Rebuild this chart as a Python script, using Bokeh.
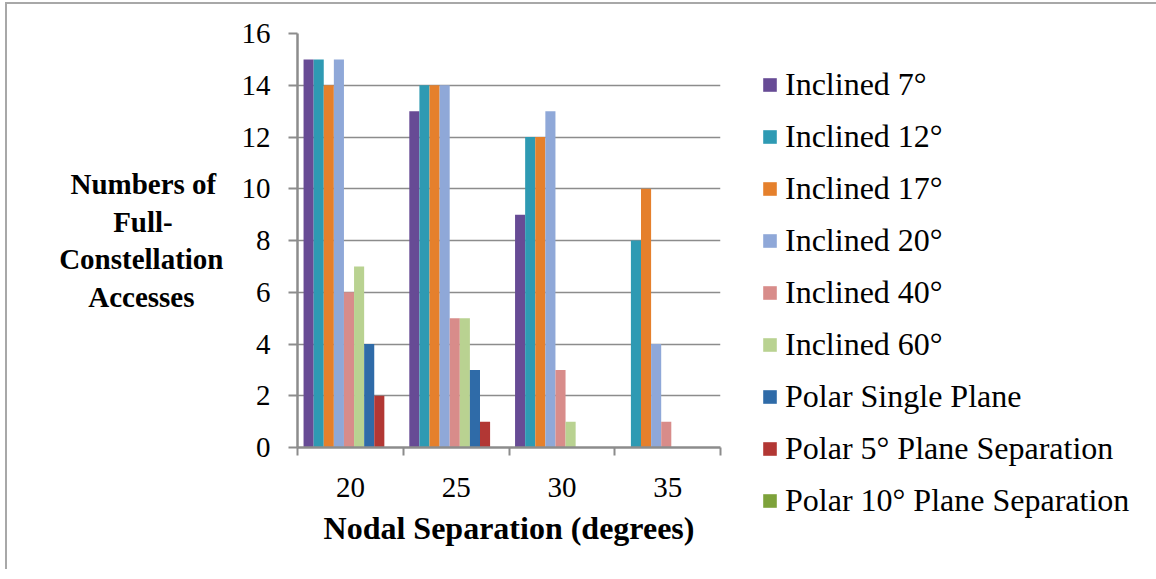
import numpy as np
from bokeh.plotting import figure
from bokeh.models import (Range1d, FixedTicker, Legend, LegendItem,
                          ColumnDataSource)
from bokeh.transform import dodge
from bokeh.embed import file_html
from bokeh.resources import INLINE

# ---- data ----
categories = ["20", "25", "30", "35"]
series_names = ["Inclined 7°", "Inclined 12°", "Inclined 17°", "Inclined 20°",
                "Inclined 40°", "Inclined 60°", "Polar Single Plane",
                "Polar 5° Plane Separation", "Polar 10° Plane Separation"]
inclined_7 = [15, 13, 9, 0]
inclined_12 = [15, 14, 12, 8]
inclined_17 = [14, 14, 12, 10]
inclined_20 = [15, 14, 13, 4]
inclined_40 = [6, 5, 3, 1]
inclined_60 = [7, 5, 1, 0]
polar_single = [4, 3, 0, 0]
polar_5 = [2, 1, 0, 0]
polar_10 = [0, 0, 0, 0]
y_ticks = [0, 2, 4, 6, 8, 10, 12, 14, 16]
x_title = "Nodal Separation (degrees)"
y_title_lines = ["Numbers of", "Full-", "Constellation", "Accesses"]

series_values = [inclined_7, inclined_12, inclined_17, inclined_20, inclined_40,
                 inclined_60, polar_single, polar_5, polar_10]
colors = ["#674B95", "#2E9AB3", "#E5802C", "#8FA8D8", "#D88C8A", "#B9D291",
          "#2F6BA8", "#B23734", "#7DA23A"]

FONT = "Liberation Serif"
GRAY = "#8C8C8C"
NBSP = "\u00a0"

x_center = np.arange(len(categories)) + 0.5
data = {"x": x_center}
for i, vals in enumerate(series_values):
    data[f"s{i}"] = vals
src = ColumnDataSource(data)

p = figure(frame_width=423, frame_height=414, output_backend="svg",
           toolbar_location=None,
           x_range=Range1d(0, len(categories)), y_range=Range1d(0, 16),
           min_border_left=290, min_border_right=427, min_border_top=29,
           min_border_bottom=122, outline_line_color=None,
           background_fill_color="white", border_fill_color="white",
           styles={"margin-left": "5px", "margin-top": "2px",
                   "border-left": "2px solid #A8A8A8",
                   "border-top": "2px solid #A8A8A8"})

bw = 0.0955
n = len(series_values)
items = []
for i in range(n):
    off = (i - (n - 1) / 2) * bw - 0.013
    r = p.vbar(x=dodge("x", off, range=p.x_range), top=f"s{i}", width=bw,
               source=src, fill_color=colors[i], line_color=None)
    items.append(LegendItem(label=series_names[i], renderers=[r]))

# axes
xa = p.xaxis[0]
xa.ticker = FixedTicker(ticks=list(x_center),
                        minor_ticks=list(range(len(categories) + 1)))
xa.major_label_overrides = {float(c): lab for c, lab in zip(x_center, categories)}
xa.major_tick_out = 0
xa.major_tick_in = 0
xa.minor_tick_out = 8
xa.minor_tick_in = 0
xa.minor_tick_line_color = GRAY
xa.minor_tick_line_width = 2
xa.axis_line_color = GRAY
xa.axis_line_width = 2.5
xa.major_label_text_font = FONT
xa.major_label_text_font_size = "29px"
xa.major_label_text_color = "black"
xa.major_label_standoff = 22
xa.axis_label = x_title
xa.axis_label_text_font = FONT
xa.axis_label_text_font_size = "32px"
xa.axis_label_text_font_style = "bold"
xa.axis_label_text_color = "black"
xa.axis_label_standoff = 10

# horizontal, centred multi-line y title (right-aligned box, padded lines)
pad = {"Numbers of": 1, "Full-": 7, "Constellation": 0, "Accesses": 4}
y_title = "\n".join(line + NBSP * pad[line] for line in y_title_lines)

ya = p.yaxis[0]
ya.ticker = FixedTicker(ticks=y_ticks)
ya.major_tick_out = 9
ya.major_tick_in = 0
ya.major_tick_line_color = GRAY
ya.major_tick_line_width = 2
ya.minor_tick_line_color = None
ya.axis_line_color = GRAY
ya.axis_line_width = 2.5
ya.major_label_text_font = FONT
ya.major_label_text_font_size = "29px"
ya.major_label_text_color = "black"
ya.major_label_standoff = 18
ya.axis_label = y_title
ya.axis_label_text_font = FONT
ya.axis_label_text_font_size = "29px"
ya.axis_label_text_font_style = "bold"
ya.axis_label_text_color = "black"
ya.axis_label_text_line_height = 1.18
ya.axis_label_standoff = 15
if "axis_label_orientation" in ya.properties():
    ya.axis_label_orientation = "horizontal"

p.xgrid.grid_line_color = None
p.ygrid.ticker = FixedTicker(ticks=y_ticks)
p.ygrid.grid_line_color = GRAY
p.ygrid.grid_line_width = 1.6

legend = Legend(items=items, location=(41, -72), orientation="vertical",
                label_text_font=FONT, label_text_font_size="32px",
                label_text_color="black", glyph_width=17, glyph_height=17,
                label_standoff=7, spacing=15, padding=0, margin=0,
                border_line_color=None, background_fill_alpha=0)
p.add_layout(legend, "right")

open("out.html", "w").write(file_html(p, INLINE))
